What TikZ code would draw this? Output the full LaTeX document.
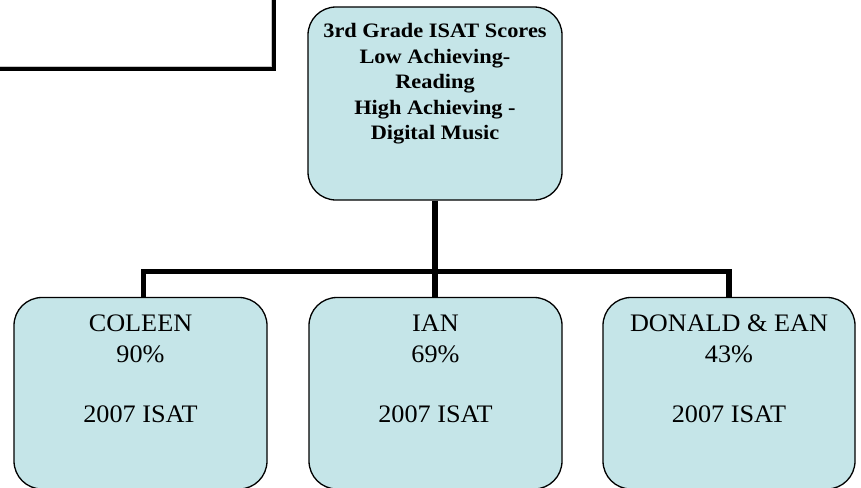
\documentclass[tikz,border=0pt]{standalone}
\usepackage{fontspec}
\setmainfont{Liberation Serif}
\usepackage{graphicx}
\definecolor{boxfill}{RGB}{197,229,232}
\tikzset{
  box/.style={draw=black, line width=1.3pt, fill=boxfill, rounded corners=28pt, inner sep=0pt},
  conn/.style={draw=black, line width=5.5pt},
  toptext/.style={anchor=base, inner sep=0pt, font=\bfseries\fontsize{20.5}{25.6}\selectfont},
  kidtext/.style={anchor=base, inner sep=0pt, font=\fontsize{25.2}{30.3}\selectfont},
}
\newcommand{\ctab}[2]{\scalebox{#1}[1]{\begin{tabular}[t]{@{}c@{}}#2\end{tabular}}}
\begin{document}
\begin{tikzpicture}[x=1pt,y=-1pt]
\useasboundingbox (0,0) rectangle (861,487);
\clip (0,0) rectangle (861,487);
% partial frame top-left
\draw[gray!45, line width=1pt] (-20,66) -- (271,66) -- (271,-20);
\draw[black, line width=4.5pt] (-20,-20) rectangle (274,69);
% boxes
\node[box, minimum width=254pt, minimum height=193pt] (top) at (435,103.5) {};
\node[box, minimum width=253pt, minimum height=191.5pt] (c1) at (140.5,393.25) {};
\node[box, minimum width=253pt, minimum height=191.5pt] (c2) at (435.5,393.25) {};
\node[box, minimum width=252pt, minimum height=191.5pt] (c3) at (729,393.25) {};
% connectors
\coordinate (bus) at (0,271.5);
\draw[conn] (top.south) -- (top.south |- c2.north);
\draw[conn] ([xshift=3pt]c1.north) -- ([xshift=3pt]c1.north |- bus) -- (c3.north |- bus) -- (c3.north);
% texts
\node[toptext] (t0) at (435,37.6) {\ctab{1.09}{3rd Grade ISAT Scores\\Low Achieving-\\Reading\\High Achieving -\\Digital Music}};
\node[kidtext] (t1) at (140.5,331.7) {\ctab{1.04}{COLEEN\\90\%\\ \\2007 ISAT}};
\node[kidtext] (t2) at (435.5,331.7) {\ctab{1.04}{IAN\\69\%\\ \\2007 ISAT}};
\node[kidtext] (t3) at (729,331.7) {\ctab{1.04}{DONALD \& EAN\\43\%\\ \\2007 ISAT}};
\end{tikzpicture}
\end{document}
